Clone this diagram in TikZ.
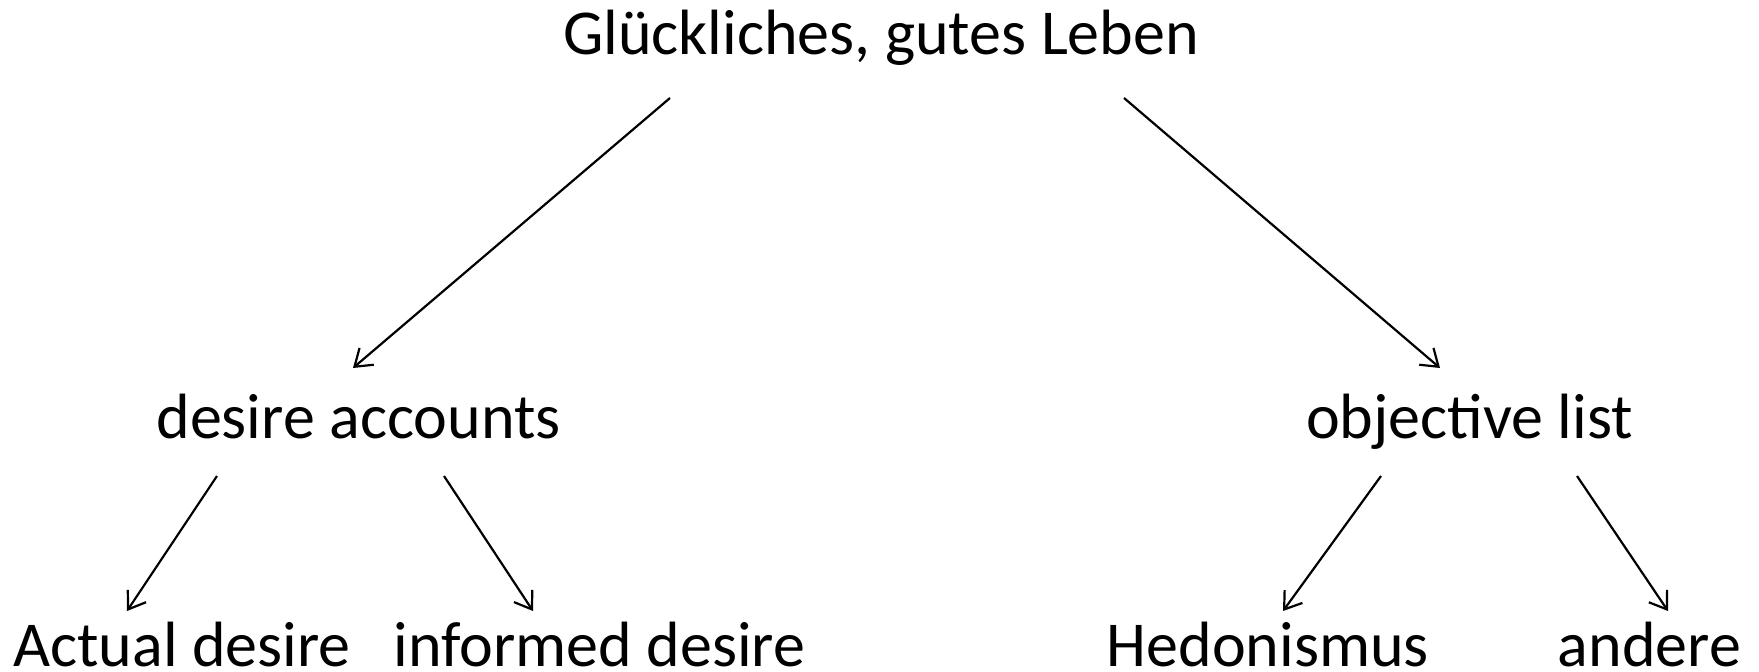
\documentclass[tikz,border=0pt]{standalone}
\usepackage{fontspec}
\setmainfont{Carlito}
\usetikzlibrary{arrows.meta}
\begin{document}
\begin{tikzpicture}[x=1pt,y=-1pt,
  label/.style={anchor=base,inner sep=0pt,font=\fontsize{64}{76}\selectfont},
  link/.style={line width=2.2pt,-{Straight Barb[length=16pt,width=22pt,line width=2.2pt]}}]
\useasboundingbox (0,0) rectangle (1759,672);
% text nodes
\node[label] (top) at (881,54) {Glückliches, gutes Leben};
\node[label] (da) at (358.5,438) {desire accounts};
\node[label] (ol) at (1469.5,438) {objective list};
\node[label] (ad) at (182,666) {Actual desire};
\node[label] (id) at (599.5,666) {informed desire};
\node[label] (he) at (1268,666) {Hedonismus};
\node[label] (an) at (1649.5,666) {andere};
% connector end points
\coordinate (topL) at (670,98);
\coordinate (topR) at (1124,98);
\coordinate (daIn) at (353,368);
\coordinate (olIn) at (1440,368);
\coordinate (daL) at (217,476);
\coordinate (daR) at (444,476);
\coordinate (olL) at (1381,476);
\coordinate (olR) at (1577,476);
\coordinate (adIn) at (127,611);
\coordinate (idIn) at (533,611);
\coordinate (heIn) at (1283,611);
\coordinate (anIn) at (1668,611);
% connectors
\draw[link] (topL) -- (daIn);
\draw[link] (topR) -- (olIn);
\draw[link] (daL) -- (adIn);
\draw[link] (daR) -- (idIn);
\draw[link] (olL) -- (heIn);
\draw[link] (olR) -- (anIn);
\end{tikzpicture}
\end{document}
